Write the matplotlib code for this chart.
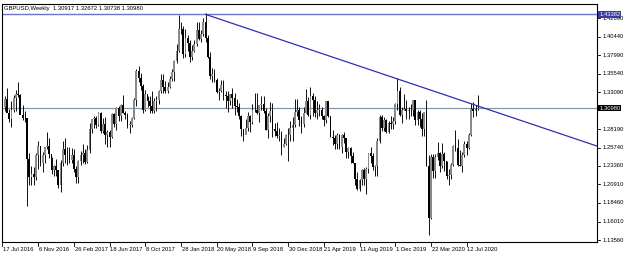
import matplotlib
matplotlib.use("Agg")
import matplotlib.pyplot as plt
import numpy as np

plt.rcParams['font.family'] = ['Liberation Sans', 'DejaVu Sans']

symbol_title = "GBPUSD,Weekly  1.30917 1.32672 1.30738 1.30980"

first_open = 1.3160
closes = [
    1.3110, 1.3220, 1.3040, 1.2950, 1.3080, 1.3230, 1.3290, 1.3270, 1.3010, 1.2970,
    1.2970, 1.2430, 1.2190, 1.2230, 1.2190, 1.2480, 1.2600, 1.2380, 1.2480, 1.2580,
    1.2600, 1.2490, 1.2280, 1.2340, 1.2280, 1.2080, 1.2370, 1.2560, 1.2480, 1.2480,
    1.2410, 1.2480, 1.2300, 1.2190, 1.2400, 1.2480, 1.2500, 1.2390, 1.2540, 1.2830,
    1.2950, 1.2970, 1.2880, 1.3030, 1.2800, 1.2890, 1.2740, 1.2780, 1.2720, 1.3020,
    1.2890, 1.3100, 1.2990, 1.3140, 1.3040, 1.3010, 1.2880, 1.2880, 1.2970, 1.3200,
    1.3590, 1.3500, 1.3390, 1.3070, 1.3280, 1.3190, 1.3130, 1.3060, 1.3190, 1.3200,
    1.3330, 1.3470, 1.3380, 1.3330, 1.3380, 1.3490, 1.3570, 1.3720, 1.3860, 1.4150,
    1.4140, 1.3820, 1.4020, 1.3960, 1.3780, 1.3860, 1.3950, 1.4130, 1.4010, 1.4080,
    1.4240, 1.4020, 1.3770, 1.3530, 1.3550, 1.3470, 1.3310, 1.3320, 1.3410, 1.3270,
    1.3260, 1.3190, 1.3280, 1.3230, 1.3130, 1.3110, 1.3000, 1.2830, 1.2740, 1.2840,
    1.3000, 1.2920, 1.3070, 1.3080, 1.3040, 1.3140, 1.3150, 1.3060, 1.2810, 1.3000,
    1.3060, 1.2830, 1.2800, 1.2730, 1.2740, 1.2580, 1.2630, 1.2740, 1.2740, 1.2840,
    1.2880, 1.3050, 1.3070, 1.2940, 1.2890, 1.3040, 1.3190, 1.3010, 1.3260, 1.3210,
    1.3030, 1.3080, 1.3080, 1.3000, 1.2940, 1.3190, 1.2990, 1.2720, 1.2710, 1.2620,
    1.2740, 1.2590, 1.2740, 1.2700, 1.2520, 1.2570, 1.2470, 1.2370, 1.2160, 1.2030,
    1.2150, 1.2280, 1.2160, 1.2290, 1.2500, 1.2470, 1.2320, 1.2330, 1.2670, 1.2980,
    1.2840, 1.2940, 1.2780, 1.2900, 1.2890, 1.2930, 1.3150, 1.3330, 1.3010, 1.3080,
    1.3090, 1.3060, 1.3070, 1.3080, 1.3200, 1.2940, 1.3050, 1.2960, 1.2820, 1.3050,
    1.2340, 1.1650, 1.2450, 1.2270, 1.2450, 1.2500, 1.2340, 1.2490, 1.2400, 1.2200,
    1.2210, 1.2350, 1.2600, 1.2570, 1.2350, 1.2330, 1.2480, 1.2620, 1.2570, 1.2740,
    1.3090, 1.3060, 1.3090, 1.30980,
]
highs = [
    1.3280, 1.3260, 1.3370, 1.3090, 1.3190, 1.3270, 1.3340, 1.3445, 1.3290, 1.3140,
    1.3060, 1.2970, 1.2500, 1.2330, 1.2320, 1.2500, 1.2670, 1.2580, 1.2520, 1.2590,
    1.2780, 1.2710, 1.2450, 1.2350, 1.2430, 1.2280, 1.2420, 1.2670, 1.2710, 1.2580,
    1.2580, 1.2570, 1.2560, 1.2330, 1.2410, 1.2530, 1.2620, 1.2560, 1.2610, 1.2900,
    1.2960, 1.2990, 1.3000, 1.3050, 1.3050, 1.2970, 1.2980, 1.2810, 1.2810, 1.3030,
    1.3030, 1.3110, 1.3130, 1.3160, 1.3270, 1.3060, 1.3030, 1.2930, 1.2980, 1.3230,
    1.3620, 1.3660, 1.3560, 1.3420, 1.3340, 1.3260, 1.3260, 1.3320, 1.3230, 1.3260,
    1.3340, 1.3550, 1.3550, 1.3460, 1.3450, 1.3520, 1.3610, 1.3740, 1.3940, 1.4330,
    1.4240, 1.4180, 1.4150, 1.4060, 1.4000, 1.3930, 1.4000, 1.4240, 1.4240, 1.4130,
    1.4290, 1.4355, 1.4070, 1.3840, 1.3630, 1.3620, 1.3500, 1.3360, 1.3470, 1.3470,
    1.3320, 1.3320, 1.3290, 1.3360, 1.3300, 1.3220, 1.3170, 1.3010, 1.2800, 1.2960,
    1.3050, 1.3010, 1.3150, 1.3300, 1.3300, 1.3130, 1.3260, 1.3260, 1.3100, 1.3030,
    1.3180, 1.3170, 1.2900, 1.2920, 1.2840, 1.2800, 1.2700, 1.2760, 1.2840, 1.2930,
    1.2980, 1.3220, 1.3220, 1.3120, 1.2990, 1.3110, 1.3350, 1.3250, 1.3380, 1.3300,
    1.3260, 1.3190, 1.3160, 1.3120, 1.3010, 1.3180, 1.3180, 1.3000, 1.2810, 1.2750,
    1.2770, 1.2760, 1.2760, 1.2780, 1.2700, 1.2590, 1.2580, 1.2520, 1.2380, 1.2250,
    1.2160, 1.2300, 1.2310, 1.2320, 1.2500, 1.2580, 1.2500, 1.2350, 1.2710, 1.3010,
    1.3010, 1.2980, 1.2960, 1.2930, 1.2990, 1.2980, 1.3170, 1.3500, 1.3380, 1.3120,
    1.3280, 1.3210, 1.3120, 1.3150, 1.3210, 1.3210, 1.3070, 1.3070, 1.3030, 1.3050,
    1.3200, 1.2480, 1.2490, 1.2490, 1.2490, 1.2650, 1.2520, 1.2640, 1.2520, 1.2400,
    1.2300, 1.2380, 1.2610, 1.2810, 1.2690, 1.2540, 1.2520, 1.2670, 1.2670, 1.2770,
    1.3170, 1.3180, 1.3140, 1.32672,
]
lows = [
    1.3060, 1.3060, 1.3050, 1.2920, 1.2850, 1.3050, 1.3060, 1.3240, 1.3060, 1.2940,
    1.2910, 1.1800, 1.2080, 1.2080, 1.2080, 1.2150, 1.2300, 1.2340, 1.2250, 1.2380,
    1.2560, 1.2440, 1.2230, 1.2200, 1.2200, 1.2040, 1.1986, 1.2340, 1.2380, 1.2350,
    1.2380, 1.2380, 1.2260, 1.2110, 1.2110, 1.2350, 1.2380, 1.2360, 1.2370, 1.2510,
    1.2770, 1.2840, 1.2840, 1.2860, 1.2770, 1.2770, 1.2630, 1.2590, 1.2590, 1.2710,
    1.2850, 1.2810, 1.2930, 1.2930, 1.3030, 1.2950, 1.2840, 1.2770, 1.2850, 1.2950,
    1.3130, 1.3450, 1.3340, 1.3030, 1.3060, 1.3120, 1.3030, 1.3030, 1.3040, 1.3060,
    1.3160, 1.3300, 1.3300, 1.3300, 1.3300, 1.3360, 1.3460, 1.3460, 1.3690, 1.3840,
    1.4080, 1.3760, 1.3770, 1.3860, 1.3710, 1.3740, 1.3840, 1.3920, 1.4000, 1.3970,
    1.4050, 1.3970, 1.3760, 1.3490, 1.3450, 1.3450, 1.3300, 1.3200, 1.3310, 1.3210,
    1.3100, 1.3050, 1.3140, 1.3100, 1.3010, 1.3050, 1.2960, 1.2730, 1.2660, 1.2760,
    1.2800, 1.2790, 1.2890, 1.3050, 1.3020, 1.2920, 1.3070, 1.3030, 1.2810, 1.2700,
    1.2920, 1.2720, 1.2730, 1.2700, 1.2660, 1.2480, 1.2580, 1.2610, 1.2400, 1.2660,
    1.2670, 1.2850, 1.3000, 1.2860, 1.2770, 1.2850, 1.3030, 1.3000, 1.2960, 1.3000,
    1.2980, 1.2960, 1.3000, 1.2960, 1.2860, 1.2900, 1.2980, 1.2720, 1.2610, 1.2560,
    1.2560, 1.2560, 1.2500, 1.2640, 1.2440, 1.2440, 1.2380, 1.2370, 1.2080, 1.2020,
    1.2010, 1.2080, 1.2080, 1.1960, 1.2240, 1.2380, 1.2280, 1.2200, 1.2200, 1.2640,
    1.2800, 1.2800, 1.2770, 1.2770, 1.2820, 1.2820, 1.2890, 1.3080, 1.3000, 1.2900,
    1.3070, 1.2950, 1.2950, 1.2990, 1.3000, 1.2870, 1.2880, 1.2850, 1.2730, 1.2730,
    1.2340, 1.1420, 1.1640, 1.2170, 1.2170, 1.2410, 1.2250, 1.2310, 1.2270, 1.2160,
    1.2080, 1.2160, 1.2330, 1.2530, 1.2340, 1.2330, 1.2250, 1.2460, 1.2480, 1.2560,
    1.2730, 1.2980, 1.3000, 1.30738,
]
last_open = 1.30917

date_labels = ["17 Jul 2016", "6 Nov 2016", "26 Feb 2017", "18 Jun 2017", "8 Oct 2017",
               "28 Jan 2018", "20 May 2018", "9 Sep 2018", "30 Dec 2018", "21 Apr 2019",
               "11 Aug 2019", "1 Dec 2019", "22 Mar 2020", "12 Jul 2020"]
date_label_bars = [0, 16, 32, 48, 64, 80, 96, 112, 128, 144, 160, 176, 192, 208]

price_labels = [1.42890, 1.40440, 1.37990, 1.35540, 1.33090, 1.28190, 1.25740,
                1.23360, 1.20910, 1.18460, 1.16010, 1.13560]
top_level = 1.43382
current_level = 1.30980
trend_bars = [91, 177]
trend_prices = [1.43380, 1.34850]

y_min, y_max = 1.1337, 1.4475
x_min, x_max = -0.22, 266.3

# ---------------------------------------------------------------
closes = np.array(closes)
highs = np.array(highs)
lows = np.array(lows)
opens = np.concatenate([[first_open], closes[:-1]])
opens[-1] = last_open
n = len(closes)
idx = np.arange(n)

W, H = 625, 254
fig = plt.figure(figsize=(W / 100, H / 100), dpi=100)
fig.patch.set_facecolor('white')
ax = fig.add_axes([2 / W, (H - 241.5) / H, (596.7 - 2) / W, (241.5 - 4) / H])
ax.set_xlim(x_min, x_max)
ax.set_ylim(y_min, y_max)
ax.set_facecolor('white')

# horizontal lines
ax.axhline(top_level, color='#7070d0', lw=1.0, zorder=1)
ax.axhline(current_level, color='#8899aa', lw=0.9, zorder=1)

# candles
bull = closes >= opens
ax.vlines(idx, lows, highs, color='black', lw=0.65, zorder=3)
body_low = np.minimum(opens, closes)
body_h = np.maximum(np.abs(closes - opens), 0.0004)
ax.bar(idx[bull], body_h[bull], bottom=body_low[bull], width=0.8,
       color='#8a8a8a', edgecolor='none', zorder=4)
ax.bar(idx[~bull], body_h[~bull], bottom=body_low[~bull], width=0.8,
       color='black', edgecolor='none', zorder=4)

# trend line (ray)
slope = (trend_prices[1] - trend_prices[0]) / (trend_bars[1] - trend_bars[0])
xs = np.array([trend_bars[0], x_max])
ax.plot(xs, trend_prices[0] + slope * (xs - trend_bars[0]), color='#3030b0',
        lw=0.9, zorder=5, clip_on=True)

# frame
for s in ax.spines.values():
    s.set_color('black')
    s.set_linewidth(0.8)
ax.set_xticks([])
ax.set_yticks([])

fs = 4.2
ytr = ax.get_yaxis_transform()
# y tick marks and labels (outside right)
for p in price_labels:
    ax.plot([1.0, 1.006], [p, p], transform=ytr,
            color='black', lw=0.6, clip_on=False)
    ax.text(1.009, p, f"{p:.5f}", transform=ytr,
            fontsize=fs, va='center', ha='left', color='black', zorder=6)

# price boxes (drawn on top of tick labels)
ax.text(1.004, top_level, f"{top_level:.5f}", transform=ytr,
        fontsize=fs, va='center', ha='left', color='white', zorder=10,
        bbox=dict(boxstyle='square,pad=0.12', fc='#3838a8', ec='none'))
ax.text(1.004, current_level, f"{current_level:.5f}", transform=ytr,
        fontsize=fs, va='center', ha='left', color='white', zorder=10,
        bbox=dict(boxstyle='square,pad=0.12', fc='black', ec='none'))

# x tick marks and date labels
xtr = ax.get_xaxis_transform()
for b, lab in zip(date_label_bars, date_labels):
    ax.plot([b, b], [0, -0.02], transform=xtr,
            color='black', lw=0.6, clip_on=False)
    ax.text(b + 0.3, -0.025, lab, transform=xtr,
            fontsize=fs, va='top', ha='left', color='black')

# title
ax.text(0.004, 0.99, symbol_title, transform=ax.transAxes, fontsize=fs,
        va='top', ha='left', color='black')

fig.savefig("out.png", dpi=100, facecolor='white')
